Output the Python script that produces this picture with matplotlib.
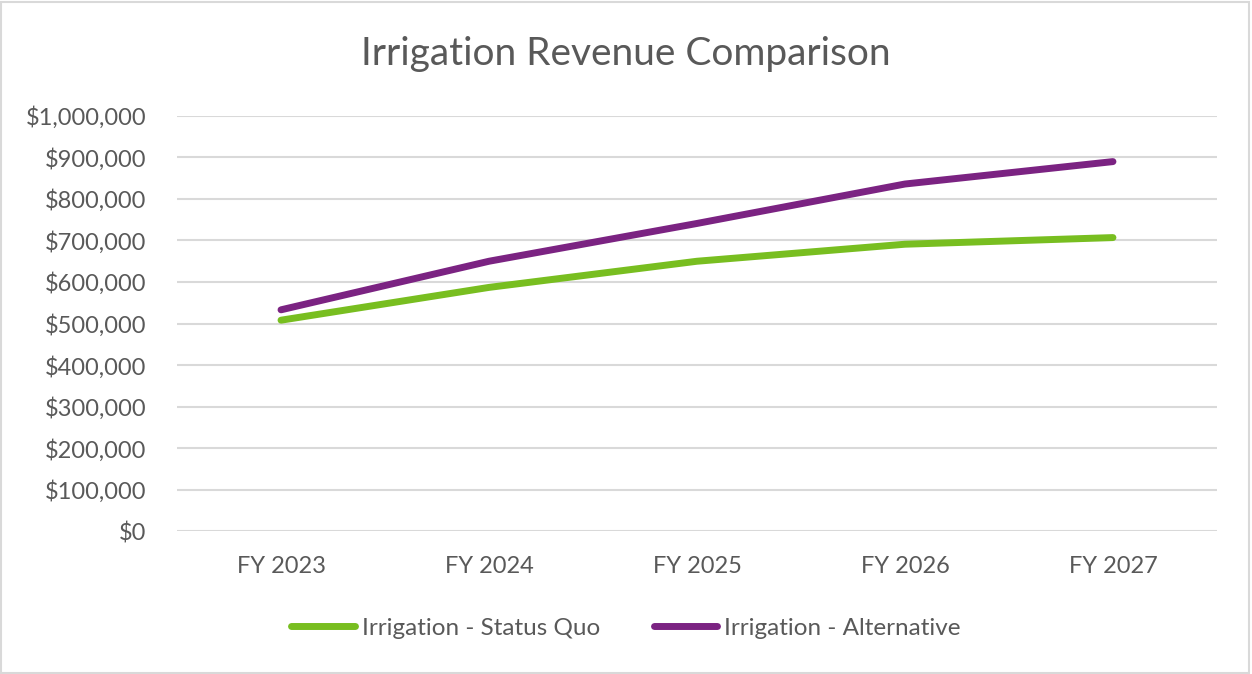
import matplotlib.pyplot as plt
import matplotlib as mpl
from matplotlib.patches import Rectangle
from matplotlib.ticker import FuncFormatter

years = ['FY 2023', 'FY 2024', 'FY 2025', 'FY 2026', 'FY 2027']
status_quo = [508000, 587000, 650000, 691000, 707000]
alternative = [533000, 650000, 741000, 836000, 890000]

plt.rcParams['font.family'] = ['Lato', 'DejaVu Sans']

fig = plt.figure(figsize=(12.52, 6.74), dpi=100)
ax = fig.add_axes([0.1414, 0.212, 0.8306, 0.616])

x = range(len(years))
ax.plot(x, status_quo, color='#78BE20', linewidth=5, solid_capstyle='round',
        label='Irrigation - Status Quo', zorder=3)
ax.plot(x, alternative, color='#7B2382', linewidth=5, solid_capstyle='round',
        label='Irrigation - Alternative', zorder=3)

ax.set_xlim(-0.5, len(years) - 0.5)
ax.set_ylim(0, 1000000)
ax.set_yticks(range(0, 1000001, 100000))
ax.yaxis.set_major_formatter(FuncFormatter(lambda v, p: '${:,.0f}'.format(v)))
ax.set_xticks(list(x))
ax.set_xticklabels(years)
ax.tick_params(length=0, labelsize=17, labelcolor='#595959')
ax.tick_params(axis='x', pad=18)
ax.tick_params(axis='y', pad=22)
ax.grid(axis='y', color='#D9D9D9', linewidth=1.5)
ax.set_axisbelow(True)
for s in ax.spines.values():
    s.set_visible(False)

fig.text(0.5, 0.92, 'Irrigation Revenue Comparison', ha='center', va='center',
         fontsize=28, color='#595959')

fig.legend(loc='center', bbox_to_anchor=(0.5, 0.068), ncol=2, frameon=False,
           fontsize=17.5, labelcolor='#595959', handlelength=2.6, handletextpad=0.3,
           columnspacing=2.2)

fig.patches.append(Rectangle((0.001, 0.002), 0.997, 0.995, transform=fig.transFigure,
                             fill=False, edgecolor='#D9D9D9', linewidth=1.5))

fig.savefig('out.png', dpi=100)
